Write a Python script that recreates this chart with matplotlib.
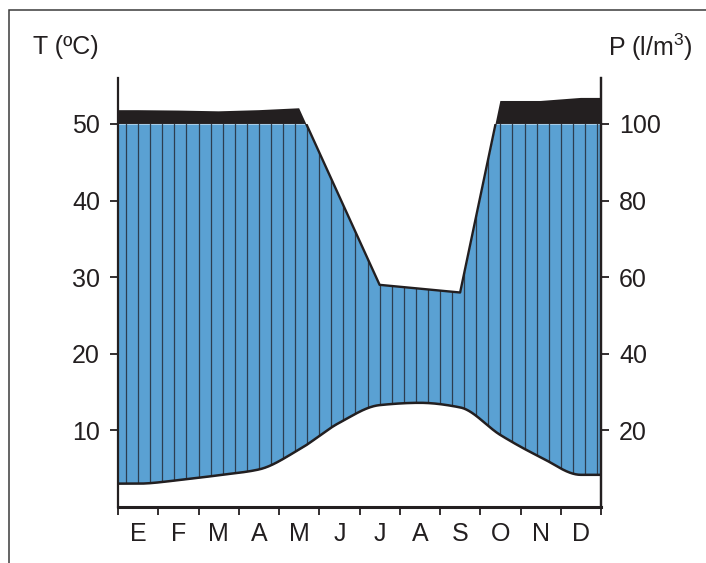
import numpy as np
import matplotlib
matplotlib.use("Agg")
import matplotlib.pyplot as plt
from matplotlib.patches import Rectangle

plt.rcParams['font.family'] = ['Liberation Sans', 'DejaVu Sans']
plt.rcParams['mathtext.fontset'] = 'custom'
plt.rcParams['mathtext.rm'] = 'Liberation Sans'
plt.rcParams['mathtext.default'] = 'regular'

# ---- data ----
months = ['E', 'F', 'M', 'A', 'M', 'J', 'J', 'A', 'S', 'O', 'N', 'D']
temp = [3.05, 3.5, 4.15, 4.9, 7.5, 11.0, 13.3, 13.6, 13.0, 9.4, 6.5, 4.2]      # ºC
precip = [136, 135, 133, 136, 141, 81, 58, 57, 56, 160, 160, 168]            # l/m3
t_ticks = [10, 20, 30, 40, 50]
p_ticks = [20, 40, 60, 80, 100]

BLUE = '#5aa1d3'
BLACK = '#231f20'
HATCH = '#2c3e50'


def wl(p):
    """Walter-Lieth scale: P = 2T up to 100, compressed 1:10 above."""
    p = np.asarray(p, float)
    return np.where(p <= 100, p / 2.0, 50 + (p - 100) / 20.0)


def pchip(x, y, xs):
    """Monotone cubic curve through the points (for a smooth drawn line)."""
    x = np.asarray(x, float)
    y = np.asarray(y, float)
    h = np.diff(x)
    d = np.diff(y) / h
    m = np.zeros_like(y)
    m[0], m[-1] = d[0], d[-1]
    for k in range(1, len(y) - 1):
        if d[k - 1] * d[k] > 0:
            w1 = 2 * h[k] + h[k - 1]
            w2 = h[k] + 2 * h[k - 1]
            m[k] = (w1 + w2) / (w1 / d[k - 1] + w2 / d[k])
    idx = np.clip(np.searchsorted(x, xs) - 1, 0, len(x) - 2)
    t = (xs - x[idx]) / h[idx]
    h00 = 2 * t**3 - 3 * t**2 + 1
    h10 = t**3 - 2 * t**2 + t
    h01 = -2 * t**3 + 3 * t**2
    h11 = t**3 - t**2
    return (h00 * y[idx] + h10 * h[idx] * m[idx] + h01 * y[idx + 1]
            + h11 * h[idx] * m[idx + 1])


W, H = 706, 563
fig = plt.figure(figsize=(W / 100, H / 100), dpi=100)
ax = fig.add_axes([118 / W, 1 - 507 / H, (601 - 118) / W, (507 - 78) / H])

xc = np.arange(len(months)) + 0.5
xe = np.concatenate([[0], xc, [len(months)]])
te = np.concatenate([[temp[0]], temp, [temp[-1]]])
ge = wl(np.concatenate([[precip[0]], precip, [precip[-1]]]))

xs = np.linspace(0, 12, 2401)
t_i = pchip(xe, te, xs)
g_i = np.interp(xs, xe, ge)

# humid period (blue)
top = np.minimum(g_i, 50)
blue = ax.fill_between(xs, t_i, top, where=top >= t_i, color=BLUE, lw=0, zorder=1)
# hatch lines clipped to blue area
hx = 0.2 + 0.3 * np.arange(40)
lc = ax.vlines(hx, 0, 56, colors=HATCH, lw=0.9, zorder=2)
lc.set_clip_path(blue.get_paths()[0], transform=ax.transData)

# very humid part (black, > 100 l/m3)
ax.fill_between(xs, 50, g_i, where=g_i >= 50, interpolate=True, color=BLACK, lw=0, zorder=3)

# curves
ax.plot(xs, t_i, color=BLACK, lw=1.8, zorder=4, solid_capstyle='butt')
pl, = ax.plot(xs, g_i, color=BLACK, lw=1.7, zorder=4, solid_joinstyle='round')
pl.set_clip_path(Rectangle((0, 0), 12, 50, transform=ax.transData))

ax.set_xlim(0, 12)
ax.set_ylim(0, 56)
ax.spines['top'].set_visible(False)
ax.spines['left'].set_linewidth(1.6)
ax.spines['right'].set_linewidth(1.6)
ax.spines['bottom'].set_linewidth(2.2)
for s in ax.spines.values():
    s.set_color(BLACK)
    s.set_zorder(6)

ax.set_yticks(t_ticks)
ax.set_yticklabels([str(v) for v in t_ticks])
ax.tick_params(axis='y', direction='out', length=6, width=1.3, pad=7,
               labelsize=18, colors=BLACK)
ax.set_xticks(np.arange(0, 13))
ax.set_xticklabels([])
ax.tick_params(axis='x', which='major', direction='out', length=6, width=1.3, color=BLACK)
ax.set_xticks(xc, minor=True)
ax.set_xticklabels(months, minor=True)
ax.tick_params(axis='x', which='minor', length=0, pad=11, labelsize=18, labelcolor=BLACK)

ax2 = ax.twinx()
ax2.set_ylim(0, 112)
ax2.set_yticks(p_ticks)
ax2.set_yticklabels([str(v) for v in p_ticks])
ax2.tick_params(axis='y', direction='out', length=6, width=1.3, pad=7,
                labelsize=18, colors=BLACK)
for s in ['top', 'left', 'bottom']:
    ax2.spines[s].set_visible(False)
ax2.spines['right'].set_linewidth(1.6)
ax2.spines['right'].set_color(BLACK)

fig.text(99 / W, 1 - 47 / H, 'T (ºC)', ha='right', va='center', fontsize=18, color=BLACK)
fig.text(608 / W, 1 - 47 / H, r'P (l/m$^{3}$)', ha='left', va='center', fontsize=18, color=BLACK)

# outer frame
fig.add_artist(Rectangle((9 / W, -0.2), 2, 1 - 10 / H + 0.2, transform=fig.transFigure,
                         fill=False, ec='#3a3a3a', lw=1.1))

fig.savefig('out.png', dpi=100)
